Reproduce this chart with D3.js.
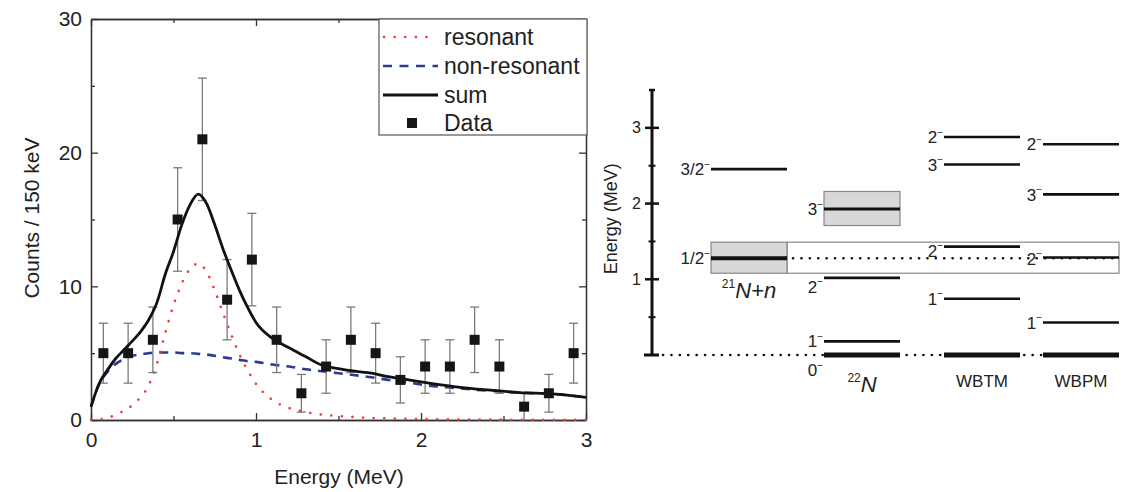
<!DOCTYPE html>
<html><head><meta charset="utf-8">
<script src="https://cdn.jsdelivr.net/npm/d3@7"></script>
<style>
body{margin:0;background:#fff}
text{font-family:"Liberation Sans",Arial,Helvetica,sans-serif;fill:#222}
</style>
</head><body>
<svg id="chart" width="1129" height="492"></svg>
<script>
// ---------- Left panel data ----------
const dataEnergy = [0.075,0.225,0.375,0.525,0.675,0.825,0.975,1.125,1.275,1.425,1.575,1.725,1.875,2.025,2.175,2.325,2.475,2.625,2.775,2.925];
const dataCounts = [5,5,6,15,21,9,12,6,2,4,6,5,3,4,4,6,4,1,2,5];
const dataError  = [2.24,2.24,2.45,3.87,4.58,3.0,3.46,2.45,1.41,2.0,2.45,2.24,1.73,2.0,2.0,2.45,2.0,1.0,1.41,2.24];

const curveEnergy = [0,0.05,0.1,0.15,0.2,0.25,0.3,0.35,0.4,0.45,0.5,0.55,0.6,0.65,0.7,0.75,0.8,0.85,0.9,0.95,1.0,1.1,1.2,1.3,1.4,1.5,1.6,1.7,1.8,1.9,2.0,2.2,2.4,2.6,2.8,3.0];
const resonant    = [0,0.05,0.15,0.4,0.7,1.1,1.7,2.6,4.2,6.5,8.6,10.2,11.3,11.7,11.1,9.7,8.0,6.4,4.9,3.7,2.7,1.5,0.9,0.6,0.4,0.3,0.22,0.16,0.12,0.09,0.07,0.04,0.03,0.02,0.01,0.01];
const nonResonant = [1.0,2.7,3.6,4.2,4.55,4.8,4.9,5.0,5.05,5.05,5.05,5.0,5.0,4.95,4.9,4.8,4.7,4.6,4.5,4.4,4.35,4.15,4.0,3.8,3.65,3.5,3.35,3.2,3.0,2.85,2.65,2.4,2.2,2.05,1.95,1.7];
const sumFit      = [1.0,2.75,3.75,4.6,5.25,5.9,6.6,7.5,8.8,10.9,12.6,14.6,16.1,16.9,16.2,14.6,12.8,11.2,9.7,8.4,7.3,6.1,5.4,4.75,4.1,3.85,3.65,3.5,3.25,3.05,2.85,2.5,2.25,2.05,1.95,1.7];

const xTicksLeft = [0,1,2,3];
const yTicksLeft = [0,10,20,30];
const legendLabels = ["resonant","non-resonant","sum","Data"];
const leftXTitle = "Energy (MeV)";
const leftYTitle = "Counts / 150 keV";

// ---------- Right panel data ----------
const columns = ["21N+n","22N","WBTM","WBPM"];
const levelColumn = ["21N+n","21N+n","22N","22N","22N","22N","WBTM","WBTM","WBTM","WBTM","WBTM","WBPM","WBPM","WBPM","WBPM","WBPM"];
const levelEnergy = [2.455,1.278,1.928,1.019,0.18,0,2.88,2.517,1.432,0.742,0,2.784,2.121,1.287,0.43,0];
const levelSpin   = ["3/2","1/2","3","2","1","0","2","3","2","1","","2","3","2","1",""];
const bandColumn = ["21N+n","22N"];
const bandLow    = [1.08,1.71];
const bandHigh   = [1.49,2.16];
const yTicksRight = [1,2,3];
const rightYTitle = "Energy (MeV)";

// ---------- drawing ----------
const svg = d3.select("#chart");
const ink = "#222";

// Left panel scales
const x = d3.scaleLinear().domain([0,3]).range([91,586]);
const y = d3.scaleLinear().domain([0,30]).range([420,19]);

const axisColor = "#333";
function styleAxis(g){
  g.select(".domain").attr("stroke",axisColor).attr("stroke-width",1.3);
  g.selectAll(".tick line").attr("stroke",axisColor).attr("stroke-width",1.3);
  g.selectAll("text").attr("font-size",21).attr("fill","#222").attr("font-family",'"Liberation Sans",Arial,sans-serif');
}
const xMinor = [0.5,1.5,2.5], yMinor=[5,15,25];
// bottom
svg.append("g").attr("transform",`translate(0,${y(0)})`)
  .call(d3.axisBottom(x).tickValues(xTicksLeft).tickFormat(d3.format("d")).tickSizeInner(-7).tickSizeOuter(0).tickPadding(12))
  .call(styleAxis);
svg.append("g").attr("transform",`translate(0,${y(0)})`)
  .call(d3.axisBottom(x).tickValues(xMinor).tickFormat("").tickSizeInner(-4).tickSizeOuter(0)).call(styleAxis);
// top
svg.append("g").attr("transform",`translate(0,${y(30)})`)
  .call(d3.axisTop(x).tickValues(xTicksLeft).tickFormat("").tickSizeInner(-7).tickSizeOuter(0)).call(styleAxis);
svg.append("g").attr("transform",`translate(0,${y(30)})`)
  .call(d3.axisTop(x).tickValues(xMinor).tickFormat("").tickSizeInner(-4).tickSizeOuter(0)).call(styleAxis);
// left
svg.append("g").attr("transform",`translate(${x(0)},0)`)
  .call(d3.axisLeft(y).tickValues(yTicksLeft).tickFormat(d3.format("d")).tickSizeInner(-7).tickSizeOuter(0).tickPadding(9))
  .call(styleAxis);
svg.append("g").attr("transform",`translate(${x(0)},0)`)
  .call(d3.axisLeft(y).tickValues(yMinor).tickFormat("").tickSizeInner(-4).tickSizeOuter(0)).call(styleAxis);
// right
svg.append("g").attr("transform",`translate(${x(3)},0)`)
  .call(d3.axisRight(y).tickValues(yTicksLeft).tickFormat("").tickSizeInner(-7).tickSizeOuter(0)).call(styleAxis);
svg.append("g").attr("transform",`translate(${x(3)},0)`)
  .call(d3.axisRight(y).tickValues(yMinor).tickFormat("").tickSizeInner(-4).tickSizeOuter(0)).call(styleAxis);

// titles
svg.append("text").attr("x",339).attr("y",484).attr("text-anchor","middle").attr("font-size",21).text(leftXTitle);
svg.append("text").attr("transform","translate(39,218) rotate(-90)").attr("text-anchor","middle").attr("font-size",21).text(leftYTitle);

// curves
const lineGen = arr => d3.line().x((d,i)=>x(curveEnergy[i])).y(d=>y(d)).curve(d3.curveMonotoneX)(arr);
const resColor = "#e8403a", nonColor = "#2b3a93";
svg.append("path").attr("d",lineGen(nonResonant)).attr("fill","none").attr("stroke",nonColor).attr("stroke-width",2.6).attr("stroke-dasharray","9 7");
svg.append("path").attr("d",lineGen(resonant)).attr("fill","none").attr("stroke",resColor).attr("stroke-width",2.6).attr("stroke-linecap","round").attr("stroke-dasharray","0.1 10.5");

// error bars
const eb = svg.append("g").attr("stroke","#7a7a7a").attr("stroke-width",1.3);
dataEnergy.forEach((e,i)=>{
  const lo = Math.max(0,dataCounts[i]-dataError[i]), hi = dataCounts[i]+dataError[i];
  eb.append("line").attr("x1",x(e)).attr("x2",x(e)).attr("y1",y(lo)).attr("y2",y(hi));
  eb.append("line").attr("x1",x(e)-4.5).attr("x2",x(e)+4.5).attr("y1",y(hi)).attr("y2",y(hi));
  if (lo>0) eb.append("line").attr("x1",x(e)-4.5).attr("x2",x(e)+4.5).attr("y1",y(lo)).attr("y2",y(lo));
});
svg.append("path").attr("d",lineGen(sumFit)).attr("fill","none").attr("stroke","#111").attr("stroke-width",2.8);
svg.append("g").selectAll("rect").data(dataEnergy).join("rect")
  .attr("x",d=>x(d)-5).attr("y",(d,i)=>y(dataCounts[i])-5).attr("width",10).attr("height",10).attr("fill","#151515");

// legend
const lg = svg.append("g");
lg.append("rect").attr("x",379).attr("y",19).attr("width",208).attr("height",116).attr("fill","#fff").attr("stroke","#555").attr("stroke-width",1.2);
const rows = [37,66,95,123];
lg.append("line").attr("x1",384).attr("x2",437).attr("y1",rows[0]).attr("y2",rows[0]).attr("stroke",resColor).attr("stroke-width",2.6).attr("stroke-linecap","round").attr("stroke-dasharray","0.1 10.5");
lg.append("line").attr("x1",383).attr("x2",438).attr("y1",rows[1]).attr("y2",rows[1]).attr("stroke",nonColor).attr("stroke-width",2.6).attr("stroke-dasharray","9 7.5");
lg.append("line").attr("x1",383).attr("x2",438).attr("y1",rows[2]).attr("y2",rows[2]).attr("stroke","#111").attr("stroke-width",2.8);
lg.append("rect").attr("x",407).attr("y",rows[3]-5).attr("width",10).attr("height",10).attr("fill","#151515");
legendLabels.forEach((t,i)=>{
  lg.append("text").attr("x",444).attr("y",rows[i]).attr("dy","0.36em").attr("font-size",23).text(t);
});

// ---------- Right panel ----------
const yE = d3.scaleLinear().domain([0,3.5]).range([355,90]);
const colX = d3.scaleOrdinal().domain(columns).range([711,824,944,1043]);
const colW = 76;
const axisX = 652;
const right = svg.append("g");

// energy axis
right.append("line").attr("x1",axisX).attr("x2",axisX).attr("y1",yE(0)).attr("y2",yE(3.5)).attr("stroke","#111").attr("stroke-width",3);
right.append("line").attr("x1",axisX-8).attr("x2",axisX+7).attr("y1",yE(0)).attr("y2",yE(0)).attr("stroke","#111").attr("stroke-width",3);
right.append("line").attr("x1",axisX-3).attr("x2",axisX+3).attr("y1",yE(3.5)).attr("y2",yE(3.5)).attr("stroke","#111").attr("stroke-width",2.5);
const rAxis = right.append("g").attr("transform",`translate(${axisX},0)`)
  .call(d3.axisLeft(yE).tickValues(yTicksRight).tickFormat(d3.format("d")).tickSize(0).tickPadding(11));
rAxis.select(".domain").remove();
rAxis.selectAll("text").attr("font-size",16).attr("fill","#333").attr("font-family",'"Liberation Sans",Arial,sans-serif');
yTicksRight.forEach(t=>{
  right.append("line").attr("x1",axisX-7).attr("x2",axisX+7).attr("y1",yE(t)).attr("y2",yE(t)).attr("stroke","#111").attr("stroke-width",2.5);
});
[0.5,1.5,2.5].forEach(t=>{
  right.append("line").attr("x1",axisX-3.5).attr("x2",axisX+3.5).attr("y1",yE(t)).attr("y2",yE(t)).attr("stroke","#111").attr("stroke-width",2);
});
right.append("text").attr("transform",`translate(617,${yE(1.8)}) rotate(-90)`).attr("text-anchor","middle").attr("font-size",18).attr("fill","#333").text(rightYTitle);

// threshold window (white box spanning the other columns)
const thrIdx = 0;
right.append("rect").attr("x",colX("21N+n")+colW).attr("y",yE(bandHigh[thrIdx]))
  .attr("width",colX("WBPM")+colW-(colX("21N+n")+colW)).attr("height",yE(bandLow[thrIdx])-yE(bandHigh[thrIdx]))
  .attr("fill","#fff").attr("stroke","#888").attr("stroke-width",1.2);
// width bands
bandColumn.forEach((c,i)=>{
  right.append("rect").attr("x",colX(c)).attr("y",yE(bandHigh[i])).attr("width",colW).attr("height",yE(bandLow[i])-yE(bandHigh[i]))
    .attr("fill","#d8d8d8").attr("stroke","#888").attr("stroke-width",1.2);
});
// dotted reference lines: ground state and 21N+n threshold state
const thrE = levelEnergy[1];
right.append("line").attr("x1",axisX+11).attr("x2",colX("WBPM")+colW).attr("y1",yE(0)).attr("y2",yE(0))
  .attr("stroke","#111").attr("stroke-width",2.6).attr("stroke-linecap","round").attr("stroke-dasharray","0.1 8.3");
right.append("line").attr("x1",colX("21N+n")+colW+6).attr("x2",colX("WBPM")+colW).attr("y1",yE(thrE)).attr("y2",yE(thrE))
  .attr("stroke","#111").attr("stroke-width",2.6).attr("stroke-linecap","round").attr("stroke-dasharray","0.1 8.3");

// levels
const labelDrop = {"22N|1.019":9,"22N|0":15,"WBTM|1.432":4,"WBPM|1.287":1};
levelEnergy.forEach((E,i)=>{
  const c = levelColumn[i];
  const inBand = bandColumn.some((b,k)=>b===c && E>bandLow[k] && E<bandHigh[k]);
  const sw = E===0 ? 5 : (c==="21N+n" && inBand ? 4 : (inBand ? 3 : 2.6));
  right.append("line").attr("x1",colX(c)).attr("x2",colX(c)+colW).attr("y1",yE(E)).attr("y2",yE(E))
    .attr("stroke","#111").attr("stroke-width",sw);
  if (levelSpin[i]) {
    const drop = labelDrop[c+"|"+E] || 0;
    const t = right.append("text").attr("x",colX(c)-1).attr("y",yE(E)+drop).attr("dy","0.36em")
      .attr("text-anchor","end").attr("font-size",17).attr("fill","#333");
    t.append("tspan").text(levelSpin[i]);
    t.append("tspan").attr("font-size",10).attr("dy","-0.75em").text("\u2212");
  }
});

// column labels
const cl1 = right.append("text").attr("x",colX("21N+n")+colW/2).attr("y",298).attr("text-anchor","middle").attr("fill","#222");
cl1.append("tspan").attr("font-size",12).attr("dy","-0.85em").text("21");
cl1.append("tspan").attr("font-size",22).attr("font-style","italic").attr("dy","0.47em").text("N+n");
const cl2 = right.append("text").attr("x",colX("22N")+colW/2).attr("y",392).attr("text-anchor","middle").attr("fill","#222");
cl2.append("tspan").attr("font-size",12).attr("dy","-0.85em").text("22");
cl2.append("tspan").attr("font-size",22).attr("font-style","italic").attr("dy","0.47em").text("N");
["WBTM","WBPM"].forEach(c=>{
  right.append("text").attr("x",colX(c)+colW/2).attr("y",387).attr("text-anchor","middle").attr("font-size",17).attr("fill","#333").text(c);
});
</script>
</body></html>
